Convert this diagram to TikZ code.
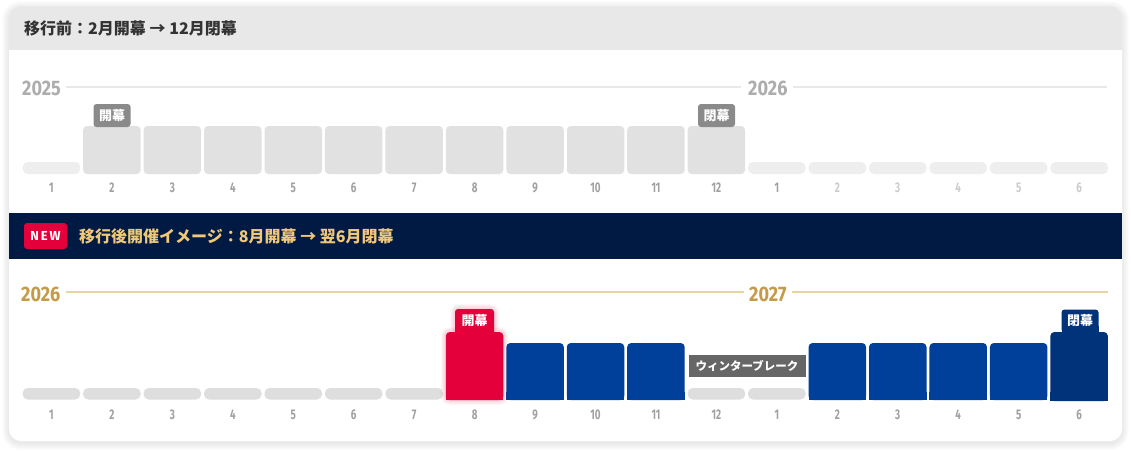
\documentclass[tikz,border=0pt]{standalone}
\usepackage{fontspec}
\setmainfont{Noto Sans CJK JP}
\newfontfamily\jp{Noto Sans CJK JP}
\newfontfamily\yearf{Fira Sans}[FakeStretch=0.86]
\newfontfamily\numf{Fira Sans}[FakeStretch=0.7]
\newfontfamily\newf{Fira Sans}[LetterSpace=14]
\definecolor{hdr}{HTML}{E8E8E8}
\definecolor{ttl}{HTML}{333333}
\definecolor{ygray}{HTML}{ADADAD}
\definecolor{yline}{HTML}{E8E8E8}
\definecolor{tallc}{HTML}{E1E1E1}
\definecolor{lowc}{HTML}{EEEEEE}
\definecolor{tagc}{HTML}{8A8A8A}
\definecolor{mgray}{HTML}{A0A0A0}
\definecolor{mlight}{HTML}{CCCCCC}
\definecolor{navy}{HTML}{001A43}
\definecolor{newred}{HTML}{E4003A}
\definecolor{gold}{HTML}{EFC878}
\definecolor{ygold}{HTML}{C49B48}
\definecolor{gline}{HTML}{E6D4A2}
\definecolor{lowb}{HTML}{DEDEDE}
\definecolor{bluec}{HTML}{00409A}
\definecolor{dnavy}{HTML}{00337A}
\definecolor{wgray}{HTML}{666666}
\begin{document}
\begin{tikzpicture}[x=1pt,y=-1pt,
  titletext/.style={font=\jp\bfseries\fontsize{16}{18}\selectfont, anchor=west, inner sep=0},
  yeartext/.style={font=\yearf\bfseries\fontsize{21}{24}\selectfont, anchor=west, inner sep=0},
  monthtext/.style={font=\numf\bfseries\fontsize{14}{16}\selectfont, inner sep=0},
  tagbox/.style={font=\jp\bfseries\fontsize{13}{14}\selectfont, text=white, minimum width=37, minimum height=23, inner sep=0, rounded corners=3},
]
\useasboundingbox (0,0) rectangle (1131,452);
% card shadow
\foreach \k in {1,...,7} {
  \pgfmathsetmacro\rr{12+\k}
  \fill[black,opacity=0.012,rounded corners=\rr pt] (9-\k,6-\k+2) rectangle (1122+\k,441+\k+2);
}
\fill[white,rounded corners=12] (9,6) rectangle (1122,441);
\begin{scope}
  \clip[rounded corners=12] (9,6) rectangle (1122,441);
  \fill[hdr] (9,6) rectangle (1122,50);
  \fill[navy] (9,213) rectangle (1122,259);
\end{scope}
% titles
\node[titletext, text=ttl] (title1) at (24,28) {移行前：2月開幕 → 12月閉幕};
\node[fill=newred, rounded corners=3, minimum width=43, minimum height=26, inner sep=0,
  font=\newf\bfseries\fontsize{13}{14}\selectfont, text=white] (newbadge) at (45.5,236) {NEW};
\node[titletext, text=gold] (title2) at (79,236) {移行後開催イメージ：8月開幕 → 翌6月閉幕};
% ---------- top timeline ----------
\node[yeartext, text=ygray] (y2025) at (22,88) {2025};
\node[yeartext, text=ygray] (y2026a) at (748,88) {2026};
\draw[yline, line width=1.6] (y2025.east) ++(5,-1) coordinate (l1a) -- (741,87) coordinate (l1b);
\draw[yline, line width=1.6] (y2026a.east) ++(5,-1) coordinate (l2a) -- (1107,87) coordinate (l2b);
\foreach \i in {1,...,11} {
  \pgfmathsetmacro\xa{22.7+\i*60.45}
  \pgfmathsetmacro\xb{\xa+57.5}
  \fill[tallc, rounded corners=4] (\xa,126) rectangle (\xb,174);
}
\foreach \i in {0,12,13,14,15,16,17} {
  \pgfmathsetmacro\xa{22.7+\i*60.45}
  \pgfmathsetmacro\xb{\xa+57.5}
  \fill[lowc, rounded corners=5] (\xa,162) rectangle (\xb,174);
}
\foreach \i/\m/\c in {0/1/mgray,1/2/mgray,2/3/mgray,3/4/mgray,4/5/mgray,5/6/mgray,6/7/mgray,7/8/mgray,8/9/mgray,9/10/mgray,10/11/mgray,11/12/mgray,12/1/mgray,13/2/mlight,14/3/mlight,15/4/mlight,16/5/mlight,17/6/mlight} {
  \pgfmathsetmacro\xc{22.7+\i*60.45+28.75}
  \node[monthtext, text=\c] (mt\i) at (\xc,188) {\m};
}
\node[tagbox, fill=tagc] (open1) at (112,115.5) {開幕};
\node[tagbox, fill=tagc] (close1) at (716.5,115.5) {閉幕};
% ---------- bottom timeline ----------
\node[yeartext, text=ygold] (y2026b) at (21,294) {2026};
\node[yeartext, text=ygold] (y2027) at (749,294) {2027};
\draw[gline, line width=1.2] (y2026b.east) ++(5,-2) coordinate (l3a) -- (744,292) coordinate (l3b);
\draw[gline, line width=1.2] (y2027.east) ++(5,-2) coordinate (l4a) -- (1108,292) coordinate (l4b);
\foreach \i in {0,...,6,11,12} {
  \pgfmathsetmacro\xa{22.7+\i*60.45}
  \pgfmathsetmacro\xb{\xa+57.5}
  \fill[lowb, rounded corners=5] (\xa,388) rectangle (\xb,399.5);
}
\foreach \i in {8,9,10,13,14,15,16} {
  \pgfmathsetmacro\xa{22.7+\i*60.45}
  \pgfmathsetmacro\xb{\xa+57.5}
  \fill[bluec, rounded corners=4] (\xa,343) rectangle (\xb,400);
  \fill[bluec] (\xa,392) rectangle (\xb,400);
}
% red opening bar with glow
\pgfmathsetmacro\xr{22.7+7*60.45}
\pgfmathsetmacro\xrb{\xr+57.5}
\foreach \k in {1,...,5} {
  \pgfmathsetmacro\rr{4+\k}
  \fill[newred, opacity=0.035, rounded corners=\rr pt] (\xr-\k,332-\k) rectangle (\xrb+\k,400+\k);
  \fill[newred, opacity=0.035, rounded corners=\rr pt] (455-\k,309-\k) rectangle (494+\k,334);
}
\node[tagbox, fill=newred, minimum width=39] (open2) at (474.5,320.5) {開幕};
\fill[newred] (455,326) rectangle (494,334);
\fill[newred, rounded corners=4] (\xr,332) rectangle (\xrb,400);
\fill[newred] (\xr,392) rectangle (\xrb,400);
% dark navy closing bar
\pgfmathsetmacro\xn{22.7+17*60.45}
\pgfmathsetmacro\xnb{\xn+57.5}
\node[tagbox, fill=dnavy] (close2) at (1080,321) {閉幕};
\fill[dnavy] (1061.5,326) rectangle (1098.5,334);
\fill[dnavy, rounded corners=4] (\xn,332) rectangle (\xnb,401);
\fill[dnavy] (\xn,392) rectangle (\xnb,401);
% winter break
\node[fill=wgray, text=white, font=\jp\bfseries\fontsize{11.5}{13}\selectfont, minimum width=117, minimum height=22, inner sep=0] (winter) at (747,366) {ウィンターブレーク};
\foreach \i/\m in {0/1,1/2,2/3,3/4,4/5,5/6,6/7,7/8,8/9,9/10,10/11,11/12,12/1,13/2,14/3,15/4,16/5,17/6} {
  \pgfmathsetmacro\xc{22.7+\i*60.45+28.75}
  \node[monthtext, text=mgray] (mb\i) at (\xc,415) {\m};
}
\end{tikzpicture}
\end{document}
